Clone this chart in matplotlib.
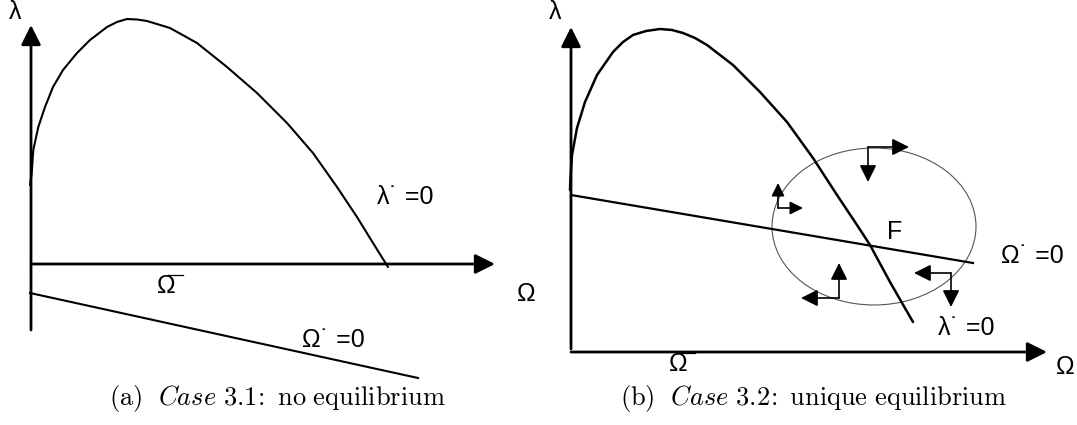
import matplotlib.pyplot as plt
from matplotlib.patches import Ellipse

plt.rcParams["font.family"] = ["Liberation Sans", "DejaVu Sans"]
plt.rcParams["mathtext.fontset"] = "cm"

# Canvas units: one unit per pixel, y grows downward.
W, H = 1077, 425

# ---- panel (a): no equilibrium ----
a_y_axis = [(31, 330), (31, 25)]
a_x_axis = [(31, 264), (495, 264)]
a_lam_x = [30, 31.7, 33.3, 38.3, 45, 53, 63, 77, 90, 107, 117, 127, 137, 147, 170, 197,
           227, 257, 287, 313, 337, 357, 373, 388]
a_lam_y = [185, 173, 150, 127, 107, 87, 70, 53, 40, 27, 22, 19, 19.5, 21, 28, 43,
           67, 93, 123, 153, 187, 217, 243, 267]
a_omega_x = [30, 418]
a_omega_y = [293, 378]

# ---- panel (b): unique equilibrium ----
b_y_axis = [(571, 349), (571, 27)]
b_x_axis = [(571, 352), (1047, 352)]
b_lam_x = [570, 570.5, 572, 577, 585, 597, 613, 623, 633, 646, 660, 672, 683, 695, 707,
           733, 760, 787, 813, 837, 857, 870, 890, 913]
b_lam_y = [190, 178, 155, 128, 102, 75, 52, 42, 35, 31, 29, 30, 33, 38, 45,
           65, 92, 122, 158, 195, 225, 245, 282, 322]
b_omega_x = [571, 973]
b_omega_y = [195, 263]
cycle_center = (874, 226.5)
cycle_size = (204, 157)

# flow arrows around F: (corner, tip of first arm, tip of second arm, head scale)
flow_arrows = [
    ((868, 147), (868, 182), (909, 147), 17),
    ((778, 208), (778, 183), (803, 208), 13),
    ((839, 298), (839, 263), (801, 298), 17),
    ((951, 273), (951, 307), (914, 273), 17),
]

label_size = 18
caption_size = 19


def arrow(ax, start, end, scale=20, lw=2.0):
    ax.annotate(
        "", xy=end, xytext=start,
        arrowprops=dict(
            arrowstyle="-|>,head_length=0.6,head_width=0.3",
            mutation_scale=scale, lw=lw, color="black",
            shrinkA=0, shrinkB=0,
        ),
    )


def omega_bar(ax, x, y):
    ax.text(x, y, "Ω", fontsize=label_size, ha="center", va="center")
    ax.plot([x + 2, x + 17], [y - 11, y - 11], color="black", lw=0.9)


def label(ax, x, y, s):
    ax.text(x, y, s, fontsize=label_size, ha="center", va="center")


fig = plt.figure(figsize=(W / 100, H / 100), dpi=100)
ax = fig.add_axes([0, 0, 1, 1])
ax.set_xlim(0, W)
ax.set_ylim(H, 0)
ax.axis("off")

# panel (a)
arrow(ax, *a_y_axis)
arrow(ax, *a_x_axis)
ax.plot(a_lam_x, a_lam_y, color="black", lw=1.5, solid_capstyle="round",
        solid_joinstyle="round")
ax.plot(a_omega_x, a_omega_y, color="black", lw=1.5)
label(ax, 15, 12, "λ")
label(ax, 526, 294, "Ω")
omega_bar(ax, 166, 286)
label(ax, 405, 197, "λ˙ =0")
label(ax, 333, 340, "Ω˙ =0")
ax.text(277, 398, r"$\mathrm{(a)}\ \ \mathit{Case\ 3.1}\!:\ \mathrm{no\ equilibrium}$",
        fontsize=caption_size, ha="center", va="center")

# panel (b)
arrow(ax, *b_y_axis)
arrow(ax, *b_x_axis)
ax.plot(b_lam_x, b_lam_y, color="black", lw=1.8, solid_capstyle="round",
        solid_joinstyle="round")
ax.plot(b_omega_x, b_omega_y, color="black", lw=1.6)
ax.add_patch(Ellipse(cycle_center, *cycle_size, fill=False, ec="#555555", lw=0.8))
for corner, tip1, tip2, sc in flow_arrows:
    arrow(ax, corner, tip1, scale=sc, lw=1.2)
    arrow(ax, corner, tip2, scale=sc, lw=1.2)
label(ax, 555, 12, "λ")
label(ax, 1065, 367, "Ω")
omega_bar(ax, 678, 364)
label(ax, 895, 232, "F")
label(ax, 1032, 256, "Ω˙ =0")
label(ax, 966, 328, "λ˙ =0")
ax.text(814, 398, r"$\mathrm{(b)}\ \ \mathit{Case\ 3.2}\!:\ \mathrm{unique\ equilibrium}$",
        fontsize=caption_size, ha="center", va="center")

fig.savefig("out.png", dpi=100)
